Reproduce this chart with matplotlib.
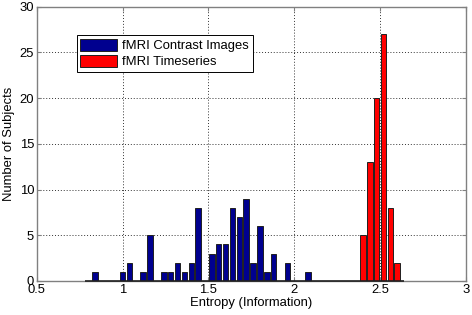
import matplotlib
matplotlib.use("Agg")
import matplotlib.pyplot as plt

# histogram bins (bin width 0.04)
contrast_centers = [0.84, 1.00, 1.04, 1.12, 1.16, 1.24, 1.28, 1.32, 1.36, 1.40,
                    1.44, 1.52, 1.56, 1.60, 1.64, 1.68, 1.72, 1.76, 1.80, 1.84,
                    1.88, 1.96, 2.08]
contrast_counts = [1, 1, 2, 1, 5, 1, 1, 2, 1, 2,
                   8, 3, 4, 4, 8, 7, 9, 2, 6, 1,
                   3, 2, 1]
timeseries_centers = [2.40, 2.44, 2.48, 2.52, 2.56, 2.60]
timeseries_counts = [5, 13, 20, 27, 8, 2]

xticks = [0.5, 1, 1.5, 2, 2.5, 3]
xticklabels = ["0.5", "1", "1.5", "2", "2.5", "3"]
yticks = [0, 5, 10, 15, 20, 25, 30]

plt.rcParams['font.family'] = ['Liberation Sans', 'DejaVu Sans']
fs = 9.4

fig = plt.figure(figsize=(4.72, 3.15), dpi=100)
ax = fig.add_axes([0.078, 0.108, 0.909, 0.871])

width = 0.032
bin_w = 0.04
ax.bar(contrast_centers, contrast_counts, width=width, color='#00008f',
       edgecolor='#202020', linewidth=0.7, label='fMRI Contrast Images', zorder=3)
ax.bar(timeseries_centers, timeseries_counts, width=width, color='#ff0000',
       edgecolor='#202020', linewidth=0.7, label='fMRI Timeseries', zorder=3)
# empty bins show up as a dark baseline in the original
ax.hlines(0, contrast_centers[0] - 1.5 * bin_w, timeseries_centers[-1] + bin_w,
          color='#202020', linewidth=1.2, zorder=4, clip_on=False)

ax.set_xlim(0.5, 3)
ax.set_ylim(0, 30)
ax.set_xticks(xticks)
ax.set_xticklabels(xticklabels)
ax.set_yticks(yticks)
ax.tick_params(direction='in', labelsize=fs, length=3, top=True, right=True,
               color='#808080', pad=2)
for s in ax.spines.values():
    s.set_color('#808080')
    s.set_linewidth(1.0)
ax.grid(True, linestyle=(0, (1, 2)), color='#333333', linewidth=0.7, zorder=0)
ax.set_axisbelow(True)

ax.set_xlabel('Entropy (Information)', fontsize=fs, labelpad=1)
ax.set_ylabel('Number of Subjects', fontsize=fs, labelpad=3)

leg = ax.legend(loc='upper left', bbox_to_anchor=(0.0925, 0.896), fontsize=fs,
                borderaxespad=0, fancybox=False, framealpha=1, edgecolor='black',
                handlelength=2.8, handleheight=1.0, borderpad=0.3,
                labelspacing=0.2, handletextpad=0.4)
leg.get_frame().set_linewidth(0.7)

fig.savefig('out.png', dpi=100)
